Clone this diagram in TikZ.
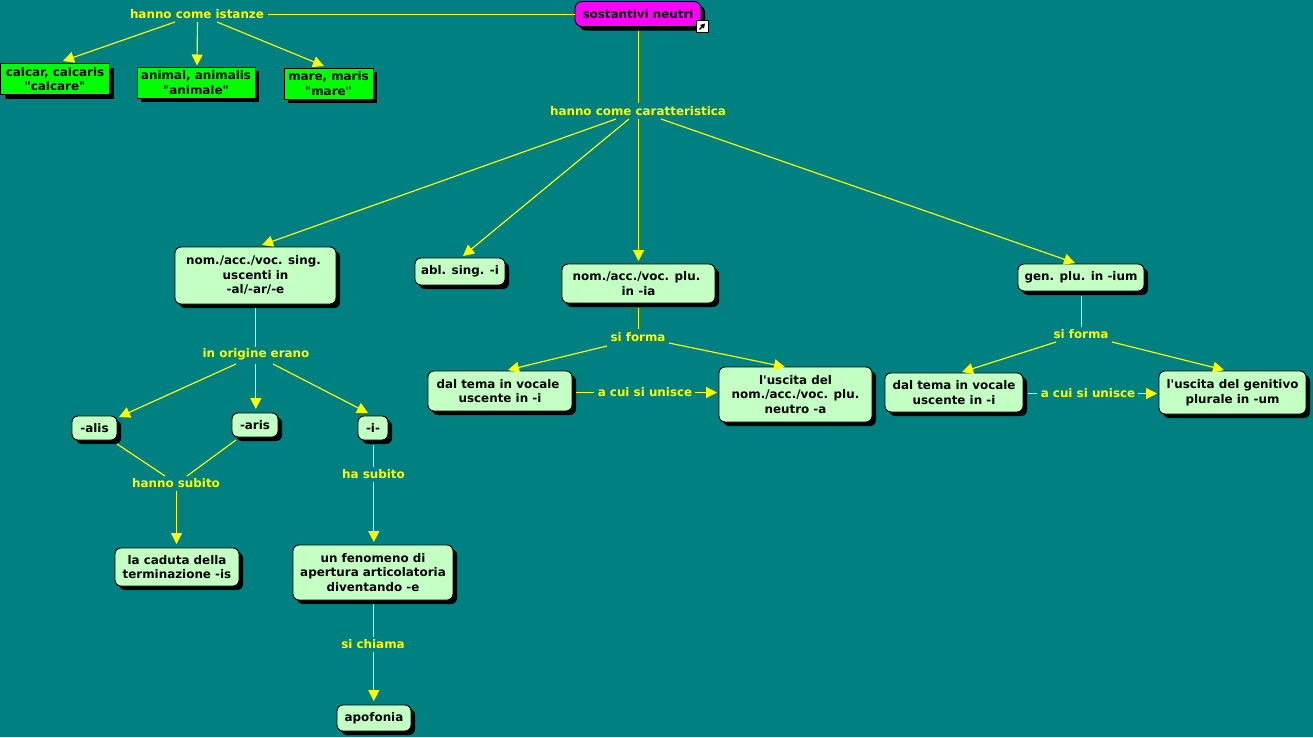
\documentclass[tikz,border=0pt]{standalone}
\usepackage{fontspec}
\setmainfont{DejaVu Sans}[Ligatures=TeXOff]
\usetikzlibrary{arrows.meta,shadows}
\definecolor{bgteal}{HTML}{008080}
\definecolor{paleg}{HTML}{C4FFC4}
\definecolor{brightg}{HTML}{00FF00}
\definecolor{mag}{HTML}{FF00FF}
\definecolor{yel}{HTML}{FFFF00}
\newcommand{\conn}[5][plainlink]{\draw[#1] ([shift={(#3)}]#2.center) -- ([shift={(#5)}]#4.center);}
\tikzset{
  basebox/.style={draw=black,line width=0.9pt,align=center,inner sep=0pt,text=black,
    font=\fontsize{11.9}{14.5}\selectfont\bfseries,
    general shadow={shadow xshift=4pt,shadow yshift=-4pt,fill=black},
    minimum width=#1},
  concept/.style={basebox=#1,fill=paleg,rounded corners=6pt},
  hotbox/.style={basebox=#1,fill=mag,rounded corners=7pt},
  inst/.style={basebox=#1,fill=brightg},
  linklabel/.style={text=yel,inner sep=0pt,font=\fontsize{11.9}{14.5}\selectfont\bfseries},
  plainlink/.style={draw=yel,line width=1.15pt},
  arrowlink/.style={plainlink,-{Triangle[length=11pt,width=11pt,fill=yel]}},
}
\begin{document}
\begin{tikzpicture}[x=1pt,y=-1pt]
\fill[bgteal] (0,0) rectangle (1313,737);
\useasboundingbox (0,0) rectangle (1313,737);
% concepts
\node[hotbox=126pt,minimum height=25pt] (sost) at (638,14) {sostantivi neutri};
\node[inst=109pt,minimum height=31pt] (calc) at (55,79) {calcar, calcaris\\"calcare"};
\node[inst=118pt,minimum height=31pt] (anim) at (196,82.5) {animal, animalis\\"animale"};
\node[inst=89pt,minimum height=31pt] (mare) at (328.5,83.5) {mare, maris\\"mare"};
\node[concept=161pt,minimum height=57pt] (ns) at (255.5,275.5) {nom./acc./voc. sing.\hspace*{4pt}\\uscenti in\\-al/-ar/-e};
\node[concept=90pt,minimum height=27pt] (abl) at (460,271.5) {abl. sing. -i};
\node[concept=153pt,minimum height=39pt] (np) at (638.5,283.5) {nom./acc./voc. plu.\hspace*{4pt}\\in -ia};
\node[concept=144pt,minimum height=40pt] (dalA) at (500,391) {dal tema in vocale\hspace*{4pt}\\uscente in -i};
\node[concept=153pt,minimum height=55pt] (luscA) at (795.5,394.5) {l'uscita del\\nom./acc./voc. plu.\\neutro -a};
\node[concept=126pt,minimum height=27pt] (gen) at (1081,277.5) {gen. plu. in -ium};
\node[concept=138pt,minimum height=39pt] (dalB) at (954,392.5) {dal tema in vocale\\uscente in -i};
\node[concept=147pt,minimum height=43pt] (luscB) at (1232.5,392.5) {l'uscita del genitivo\\plurale in -um};
\node[concept=45pt,minimum height=24pt] (alis) at (94.5,428) {-alis};
\node[concept=46pt,minimum height=24pt] (aris) at (255,425) {-aris};
\node[concept=30pt,minimum height=24pt] (ii) at (373,428) {-i-};
\node[concept=124pt,minimum height=38pt] (cad) at (177,567) {la caduta della\\terminazione -is};
\node[concept=160pt,minimum height=55pt] (fen) at (373,572.5) {un fenomeno di\\apertura articolatoria\\diventando -e};
\node[concept=74pt,minimum height=26pt] (apof) at (374,718) {apofonia};
% link labels
\node[linklabel] (ist) at (197,14) {hanno come istanze};
\node[linklabel] (car) at (638,111) {hanno come caratteristica};
\node[linklabel] (sfA) at (638,337) {si forma};
\node[linklabel] (sfB) at (1081,334) {si forma};
\node[linklabel] (cuA) at (645,392) {a cui si unisce};
\node[linklabel] (cuB) at (1088,393) {a cui si unisce};
\node[linklabel] (ori) at (256,354) {in origine erano};
\node[linklabel] (hs) at (176,483) {hanno subito};
\node[linklabel] (has) at (373.5,474) {ha subito};
\node[linklabel] (chi) at (373,644) {si chiama};
% link icon
\node[draw=black,fill=white,line width=0.9pt,minimum size=12pt,inner sep=0pt] (icon) at (702,26.5) {};
\draw[line width=1.3pt,-{Triangle[length=4.5pt,width=5pt]}] ([shift={(-2.5,3)}]icon.center) -- ([shift={(3,-3)}]icon.center);
% connectors
\conn{ist}{71,0.5}{sost}{-63,0.5}
\conn{sost}{0.5,17}{car}{0.5,-8}
\conn[arrowlink]{ist}{-22,8}{calc}{8,-18}
\conn[arrowlink]{ist}{0.5,8}{anim}{1,-17}
\conn[arrowlink]{ist}{20,8}{mare}{-4.5,-17.5}
\conn[arrowlink]{car}{-22,8}{ns}{6.5,-30.5}
\conn[arrowlink]{car}{-9,8}{abl}{3,-15.5}
\conn[arrowlink]{car}{0.5,8}{np}{0,-22.5}
\conn[arrowlink]{car}{23,8}{gen}{-6,-14.5}
\conn{np}{0,24.5}{sfA}{0.5,-8}
\conn[arrowlink]{sfA}{-31,9}{dalA}{8,-21}
\conn[arrowlink]{sfA}{31,6}{luscA}{-10.5,-27.5}
\conn{dalA}{76,1.5}{cuA}{-51,0.5}
\conn[arrowlink]{cuA}{50,0.5}{luscA}{-78.5,-2}
\conn{gen}{0.8,18.5}{sfB}{0.8,-7}
\conn[arrowlink]{sfB}{-25,8}{dalB}{8,-20.5}
\conn[arrowlink]{sfB}{31,8}{luscB}{-8.5,-22.5}
\conn{dalB}{74,1}{cuB}{-51,0.5}
\conn[arrowlink]{cuB}{50,0.5}{luscB}{-75.5,1}
\conn{ns}{0.3,32.5}{ori}{-0.2,-7}
\conn[arrowlink]{ori}{-20,10}{alis}{24.5,-11}
\conn[arrowlink]{ori}{-0.2,10}{aris}{0.8,-16}
\conn[arrowlink]{ori}{17,10}{ii}{-5,-15}
\conn{alis}{22.5,16}{hs}{-11,-7}
\conn{aris}{-19,15}{hs}{11,-7}
\conn[arrowlink]{hs}{0.5,8}{cad}{-0.5,-23}
\conn{ii}{0.8,17}{has}{0.3,-7}
\conn[arrowlink]{has}{0.3,8}{fen}{0.8,-30.5}
\conn{fen}{0.8,31.5}{chi}{0.8,-7}
\conn[arrowlink]{chi}{0.8,8}{apof}{-0.2,-17}
\end{tikzpicture}
\end{document}
